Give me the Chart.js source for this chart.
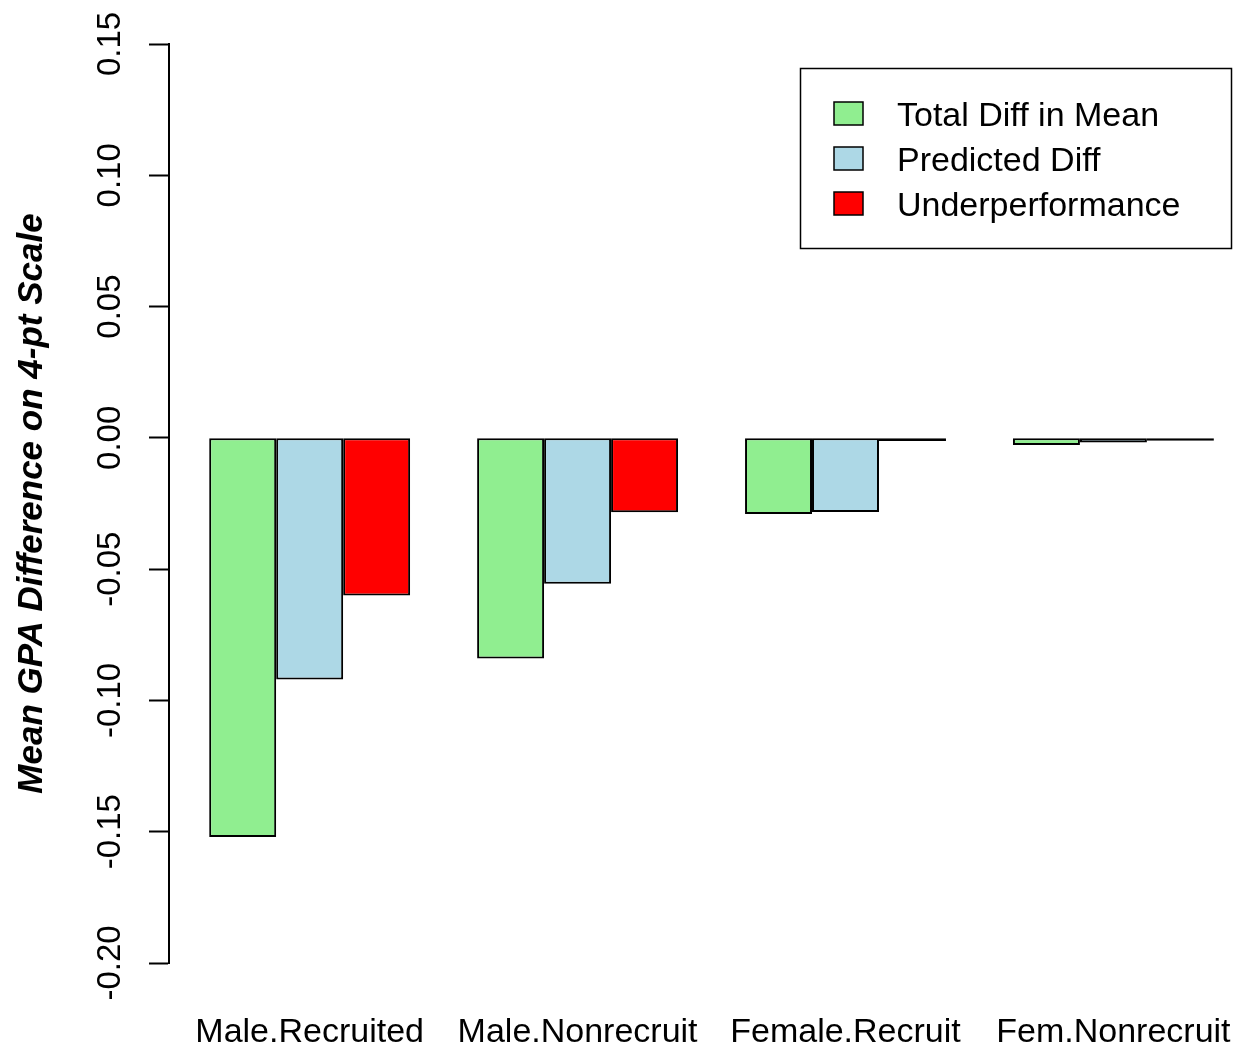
<!DOCTYPE html>
<html lang="en">
<head>
<meta charset="UTF-8">
<title>Mean GPA Difference on 4-pt Scale</title>
<script src="https://cdn.jsdelivr.net/npm/chart.js@4"></script>
<style>
  html,body{margin:0;padding:0;background:#fff}
  #wrap{width:1236px;height:1049px}
</style>
</head>
<body>
<div id="wrap"><canvas id="gpaChart" width="1236" height="1049"></canvas></div>
<script>
// groups and the value
const groups = ['Male.Recruited', 'Male.Nonrecruit', 'Female.Recruit', 'Fem.Nonrecruit'];
const groupPos = [2.5, 6.5, 10.5, 14.5];
const totalDiff = [-0.152, -0.084, -0.029, -0.0027];
const predictedDiff = [-0.092, -0.0556, -0.0282, -0.0018];
const underperf = [-0.060, -0.0283, -0.0012, -0.0011];
const yTicks = [0.15, 0.10, 0.05, 0.00, -0.05, -0.10, -0.15, -0.20];

const FONT = "'Liberation Sans', Arial, sans-serif";
const pts = vals => groupPos.map((x, i) => ({ x, y: vals[i] }));

// R style boxed legend in the top right corner
const boxLegend = {
  id: 'boxLegend',
  afterDraw(chart) {
    const ctx = chart.ctx;
    ctx.save();
    ctx.lineWidth = 1.5;
    ctx.strokeStyle = '#000';
    ctx.strokeRect(800.5, 68.5, 431, 180);
    ctx.font = '34px ' + FONT;
    ctx.textBaseline = 'middle';
    chart.data.datasets.forEach((ds, i) => {
      const cy = 114 + i * 45;
      ctx.fillStyle = ds.backgroundColor;
      ctx.fillRect(834, cy - 12, 29, 23);
      ctx.strokeRect(834, cy - 12, 29, 23);
      ctx.fillStyle = '#000';
      ctx.fillText(ds.label, 897, cy + 3);
    });
    ctx.restore();
  }
};

new Chart(document.getElementById('gpaChart'), {
  type: 'bar',
  data: {
    datasets: [
      { label: 'Total Diff in Mean', data: pts(totalDiff), backgroundColor: '#90EE90' },
      { label: 'Predicted Diff', data: pts(predictedDiff), backgroundColor: '#ADD8E6' },
      { label: 'Underperformance', data: pts(underperf), backgroundColor: '#FF0000' }
    ]
  },
  options: {
    responsive: false,
    animation: false,
    layout: { padding: { top: 44, right: 0, bottom: 0, left: 0 } },
    datasets: {
      bar: { categoryPercentage: 0.75, barPercentage: 1, borderColor: '#000', borderWidth: 2, borderSkipped: false }
    },
    scales: {
      x: {
        type: 'linear', min: 0.4, max: 16.33, offset: false,
        grid: { display: false },
        border: { display: false },
        afterBuildTicks: a => { a.ticks = groupPos.map(v => ({ value: v })); },
        afterFit: s => { s.height = 86; s.paddingLeft = 0; s.paddingRight = 0; },
        ticks: {
          callback: (v, i) => groups[i],
          autoSkip: false, maxRotation: 0, padding: 41,
          color: '#000', font: { family: FONT, size: 34 }
        }
      },
      y: {
        min: -0.2, max: 0.15,
        afterBuildTicks: a => { a.ticks = yTicks.map(v => ({ value: v })); },
        afterFit: s => { s.width = 169; },
        grid: { drawOnChartArea: false, tickLength: 20, tickColor: '#000', tickWidth: 2 },
        border: { display: true, color: '#000', width: 2 },
        ticks: {
          callback: v => Math.abs(v) < 1e-9 ? '0.00' : v.toFixed(2),
          minRotation: 90, maxRotation: 90, crossAlign: 'center', padding: 0,
          color: '#000', font: { family: FONT, size: 33 }
        },
        title: {
          display: true, text: 'Mean GPA Difference on 4-pt Scale', color: '#000',
          font: { family: FONT, size: 35, weight: 'bold', style: 'italic' },
          padding: { top: 11, bottom: 0 }
        }
      }
    },
    plugins: { legend: { display: false }, tooltip: { enabled: false } }
  },
  plugins: [boxLegend]
});
</script>
</body>
</html>
